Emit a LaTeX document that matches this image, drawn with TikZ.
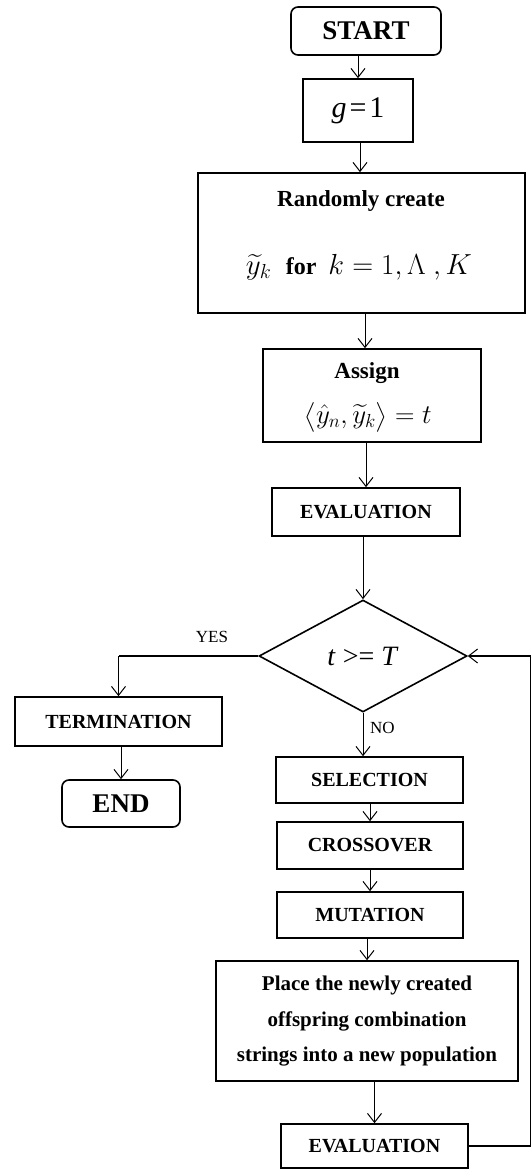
\RequirePackage{fix-cm}
\documentclass[tikz,border=0pt]{standalone}
\usepackage{amsmath}
\usepackage{fontspec}
\setmainfont{Liberation Serif}
\usetikzlibrary{arrows.meta,shapes.geometric}
\newcommand{\fs}[1]{\fontsize{#1}{#1}\selectfont}
\begin{document}
\begin{tikzpicture}[x=1pt,y=-1pt,
  box/.style={draw,line width=1.6pt,inner sep=0pt,align=center},
  rbox/.style={box,rounded corners=7pt},
  conn/.style={line width=1pt,-{Straight Barb[length=9pt,width=14pt,line width=1pt]}},
  thick conn/.style={conn,line width=1.8pt},
  lbl/.style={inner sep=0pt,font=\fs{17}}]
\useasboundingbox (0,0) rectangle (530,1169);
\node[rbox,minimum width=150pt,minimum height=48pt,font=\fs{27}\bfseries] (start) at (366,31) {START};
\node[box,minimum width=110pt,minimum height=63pt,font=\fs{30}] (g) at (358,110.5) {\textit{g}\kern3pt=\kern3pt1};
\node[box,minimum width=327pt,minimum height=140pt] (rand) at (361.5,243) {};
\node[font=\fs{23}\bfseries,inner sep=0pt] (randt) at (361,201) {Randomly create};
\node[font=\fs{24}\bfseries,inner sep=0pt] (randm) at (359,267) {\fs{29}$\widetilde{y}_k$\enspace\fs{24}for\enspace\fs{29}$k = 1,\Lambda\ ,K$};
\node[box,minimum width=218pt,minimum height=93pt] (assign) at (372,395.5) {};
\node[font=\fs{23}\bfseries,inner sep=0pt] (assignt) at (367,373) {Assign};
\node[font=\fs{27},inner sep=0pt] (assignm) at (368,417) {$\big\langle \hat{y}_n ,\widetilde{y}_k \big\rangle = t$};
\node[box,minimum width=188pt,minimum height=48pt,font=\fs{20}\bfseries] (eval1) at (366,512) {EVALUATION};
\node[draw,line width=1.6pt,shape=diamond,inner sep=0pt,minimum width=208pt,minimum height=112pt,font=\fs{28}] (dec) at (363,656) {\textit{t} >= \textit{T}};
\node[box,minimum width=207pt,minimum height=49pt,font=\fs{20}\bfseries] (term) at (118.5,721.5) {TERMINATION};
\node[rbox,minimum width=118pt,minimum height=47pt,font=\fs{27}\bfseries] (end) at (121,803.5) {END};
\node[box,minimum width=187pt,minimum height=46pt,font=\fs{20}\bfseries] (sel) at (369.5,780) {SELECTION};
\node[box,minimum width=186pt,minimum height=47pt,font=\fs{20}\bfseries] (cross) at (370,845.5) {CROSSOVER};
\node[box,minimum width=186pt,minimum height=46pt,font=\fs{20}\bfseries] (mut) at (370,915) {MUTATION};
\node[box,minimum width=302pt,minimum height=120pt] (place) at (367,1021) {};
\node[font=\fs{21}\bfseries,inner sep=0pt] (pl1) at (367,985) {Place the newly created};
\node[font=\fs{21}\bfseries,inner sep=0pt] (pl2) at (367,1021) {offspring combination};
\node[font=\fs{21}\bfseries,inner sep=0pt] (pl3) at (367,1057) {strings into a new population};
\node[box,minimum width=187pt,minimum height=44pt,font=\fs{20}\bfseries] (eval2) at (374.5,1146) {EVALUATION};
\node[lbl] (yes) at (212,637) {YES};
\node[lbl,anchor=west] (no) at (370,728) {NO};
\coordinate (fb) at (531,0);
\coordinate (a1) at (360,0);
\coordinate (a2) at (365,0);
\draw[conn] (g.north |- start.south) -- (g.north);
\draw[conn] (a1 |- g.south) -- (a1 |- rand.north);
\draw[conn] (a2 |- rand.south) -- (a2 |- assign.north);
\draw[conn] (eval1.north |- assign.south) -- (eval1.north);
\draw[conn] (dec.north |- eval1.south) -- (dec.north);
\draw[line width=1.8pt] (dec.west) -- (dec.west -| term.north);
\draw[conn] (dec.west -| term.north) -- (term.north);
\draw[conn] (term.south -| end.north) -- (end.north);
\draw[conn] (dec.south) -- (dec.south |- sel.north);
\draw[conn] (sel.south -| cross.north) -- (cross.north);
\draw[conn] (cross.south) -- (mut.north);
\draw[conn] (mut.south -| place.north) -- (place.north);
\draw[conn] (place.south -| eval2.north) -- (eval2.north);
\draw[thick conn] (eval2.east) -- (eval2.east -| fb) -- (dec.east -| fb) -- (dec.east);
\end{tikzpicture}
\end{document}
